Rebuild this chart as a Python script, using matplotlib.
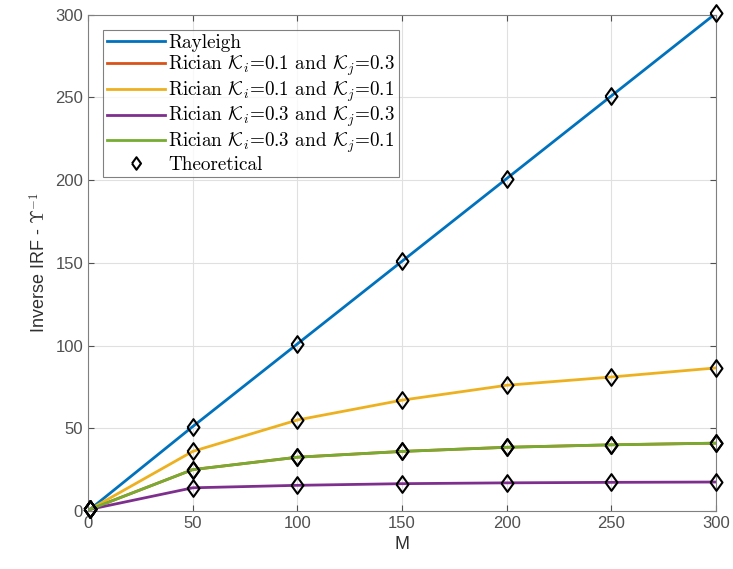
import matplotlib
matplotlib.use("Agg")
import matplotlib.pyplot as plt

# data
M = [1, 50, 100, 150, 200, 250, 300]
rayleigh = [1, 51, 101, 151, 201, 251, 301]
rician_01_03 = [1, 25, 32.5, 36, 38.5, 40, 41]
rician_01_01 = [1, 36, 55, 67, 76, 81, 86.5]
rician_03_03 = [1, 14, 15.5, 16.5, 17, 17.3, 17.5]
rician_03_01 = [1, 25, 32.5, 36, 38.5, 40, 41]

labels = [
    'Rayleigh',
    r'Rician $\mathcal{K}_i$=0.1 and $\mathcal{K}_j$=0.3',
    r'Rician $\mathcal{K}_i$=0.1 and $\mathcal{K}_j$=0.1',
    r'Rician $\mathcal{K}_i$=0.3 and $\mathcal{K}_j$=0.3',
    r'Rician $\mathcal{K}_i$=0.3 and $\mathcal{K}_j$=0.1',
]
series = [rayleigh, rician_01_03, rician_01_01, rician_03_03, rician_03_01]
colors = ['#0072BD', '#D95319', '#EDB120', '#7E2F8E', '#77AC30']

plt.rcParams['mathtext.fontset'] = 'cm'
plt.rcParams['font.family'] = ['Liberation Sans', 'DejaVu Sans']

# matlab-like diamond (a bit taller than wide)
diamond = [(-0.72, 0), (0, 1), (0.72, 0), (0, -1), (-0.72, 0)]

fig = plt.figure(figsize=(7.33, 5.69), dpi=100)
ax = fig.add_axes([0.12, 0.102, 0.857, 0.872])

for y, c, lab in zip(series, colors, labels):
    ax.plot(M, y, color=c, linewidth=2, label=lab)
for i, y in enumerate(series):
    ax.plot(M, y, linestyle='none', marker=diamond, markersize=12, markerfacecolor='none',
            markeredgecolor='black', markeredgewidth=1.5, clip_on=False, zorder=5,
            label='Theoretical' if i == 0 else None)

ax.set_xlim(0, 300)
ax.set_ylim(0, 300)
ax.set_xticks(range(0, 301, 50))
ax.set_yticks(range(0, 301, 50))
ax.grid(True, color='#e0e0e0', linewidth=0.8)
ax.set_axisbelow(True)
for s in ax.spines.values():
    s.set_color('#808080')
ax.tick_params(colors='#505050', labelsize=12, direction='in', length=4,
               top=True, right=True)
ax.set_xlabel('M', fontsize=13, color='#303030')
ax.set_ylabel(r'Inverse IRF - $\mathsf{\Upsilon}^{-1}$', fontsize=13, color='#303030')

leg = ax.legend(loc='upper left', prop={'family': 'cmr10', 'size': 13.8}, frameon=True,
                fancybox=False, edgecolor='#606060', borderpad=0.2, labelspacing=0.02,
                handlelength=3.0, handletextpad=0.2, borderaxespad=0.8)
leg.get_frame().set_linewidth(0.8)
leg.legend_handles[-1].set_markersize(9)

fig.savefig('out.png', dpi=100)
